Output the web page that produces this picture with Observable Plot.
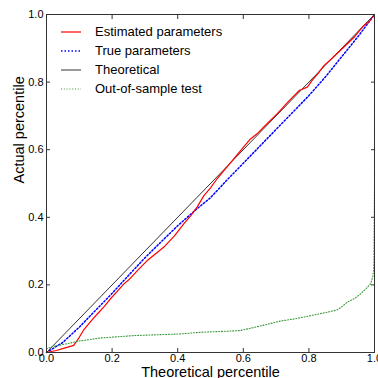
<!DOCTYPE html>
<html>
<head>
<meta charset="utf-8">
<script src="https://cdn.jsdelivr.net/npm/d3@7"></script>
<script src="https://cdn.jsdelivr.net/npm/@observablehq/plot@0.6"></script>
<style>
body { margin: 0; background: #fff; }
#wrap { position: relative; width: 378px; height: 378px; font-family: "Liberation Sans", Arial, sans-serif; }
#legend { position: absolute; left: 60px; top: 22px; font-size: 13px; color: #000; }
#legend .row { display: flex; align-items: center; height: 19px; }
#legend svg { width: 24px; height: 10px; margin-right: 11px; }
</style>
</head>
<body>
<div id="wrap"><div id="legend"></div></div>
<script>
// Estimated parameters (red, solid)
const estX = [0, 0.03, 0.052, 0.083, 0.10, 0.114, 0.135, 0.155, 0.175, 0.195, 0.215, 0.236, 0.251, 0.28, 0.307, 0.33, 0.358, 0.39, 0.419, 0.44, 0.459, 0.48, 0.5, 0.52, 0.56, 0.6, 0.62, 0.642, 0.67, 0.703, 0.74, 0.77, 0.795, 0.81, 0.83, 0.845, 0.87, 0.906, 0.94, 0.967, 0.985, 1];
const estY = [0, 0.006, 0.012, 0.021, 0.045, 0.068, 0.092, 0.114, 0.135, 0.159, 0.18, 0.203, 0.215, 0.245, 0.272, 0.29, 0.312, 0.345, 0.381, 0.405, 0.43, 0.464, 0.487, 0.514, 0.56, 0.607, 0.63, 0.647, 0.675, 0.706, 0.745, 0.775, 0.785, 0.805, 0.828, 0.848, 0.87, 0.903, 0.935, 0.967, 0.98, 1];
// True parameters (blue, dotted)
const trueX = [0, 0.05, 0.1, 0.15, 0.2, 0.25, 0.3, 0.35, 0.4, 0.45, 0.5, 0.55, 0.6, 0.65, 0.7, 0.75, 0.8, 0.85, 0.9, 0.95, 1];
const trueY = [0, 0.03, 0.075, 0.125, 0.175, 0.228, 0.28, 0.328, 0.375, 0.418, 0.458, 0.51, 0.56, 0.61, 0.66, 0.71, 0.76, 0.815, 0.875, 0.935, 1];
// Theoretical (black)
const theoX = [0, 1];
const theoY = [0, 1];
// Out-of-sample test (green, dotted)
const oosX = [0, 0.02, 0.063, 0.1, 0.165, 0.266, 0.35, 0.409, 0.47, 0.55, 0.591, 0.65, 0.713, 0.76, 0.815, 0.86, 0.886, 0.9, 0.917, 0.94, 0.957, 0.975, 0.988, 0.995, 0.998, 1, 1];
const oosY = [0.011, 0.018, 0.026, 0.034, 0.043, 0.05, 0.053, 0.055, 0.06, 0.063, 0.065, 0.078, 0.093, 0.1, 0.111, 0.12, 0.126, 0.135, 0.149, 0.16, 0.173, 0.19, 0.203, 0.225, 0.252, 0.5, 1];
const ticks = [0, 0.2, 0.4, 0.6, 0.8, 1.0];
const seriesNames = ["Estimated parameters", "True parameters", "Theoretical", "Out-of-sample test"];
const seriesColors = ["red", "blue", "black", "#3a9a3a"];
const seriesDash = [null, "1.5,2", null, "1,1.8"];
const xTitle = "Theoretical percentile";
const yTitle = "Actual percentile";

const zip = (xs, ys) => xs.map((x, i) => ({x, y: ys[i]}));
const fmt = d3.format(".1f");

const chart = Plot.plot({
  width: 378, height: 378,
  marginLeft: 46, marginRight: 4, marginTop: 14, marginBottom: 26,
  style: {fontFamily: "Liberation Sans, Arial, sans-serif", fontSize: "11px", color: "#000", background: "transparent"},
  x: {domain: [0, 1]},
  y: {domain: [0, 1]},
  marks: [
    Plot.line(zip(theoX, theoY), {x: "x", y: "y", stroke: "black", strokeWidth: 0.8}),
    Plot.line(zip(trueX, trueY), {x: "x", y: "y", stroke: "blue", strokeWidth: 1.5, strokeDasharray: "1.5,2"}),
    Plot.line(zip(estX, estY), {x: "x", y: "y", stroke: "red", strokeWidth: 1.2}),
    Plot.line(zip(oosX, oosY), {x: "x", y: "y", stroke: "#3a9a3a", strokeWidth: 1.1, strokeDasharray: "1,1.8"}),
    Plot.frame({stroke: "#333", strokeWidth: 1}),
    Plot.axisX(ticks, {anchor: "bottom", tickSize: -4, tickPadding: 6, tickFormat: fmt, label: null, stroke: "#333"}),
    Plot.axisX(ticks, {anchor: "top", tickSize: -4, tickFormat: () => "", label: null, stroke: "#333"}),
    Plot.axisY(ticks, {anchor: "left", tickSize: -4, tickPadding: 7, tickFormat: fmt, label: null, stroke: "#333"}),
    Plot.axisY(ticks, {anchor: "right", tickSize: -4, tickFormat: () => "", label: null, stroke: "#333"}),
    Plot.text([xTitle], {frameAnchor: "bottom", dy: 20, fontSize: 14.5, lineAnchor: "middle"}),
    Plot.text([yTitle], {frameAnchor: "left", dx: -27, rotate: -90, fontSize: 14.5, lineAnchor: "middle"})
  ]
});
document.getElementById("wrap").prepend(chart);

const legend = d3.select("#legend");
seriesNames.forEach((name, i) => {
  const row = legend.append("div").attr("class", "row");
  const s = row.append("svg");
  s.append("line").attr("x1", 1).attr("x2", 21).attr("y1", 5).attr("y2", 5)
    .attr("stroke", seriesColors[i])
    .attr("stroke-width", i === 2 ? 0.8 : (i === 1 ? 1.5 : 1.2))
    .attr("stroke-dasharray", seriesDash[i]);
  row.append("span").text(name);
});
</script>
</body>
</html>
